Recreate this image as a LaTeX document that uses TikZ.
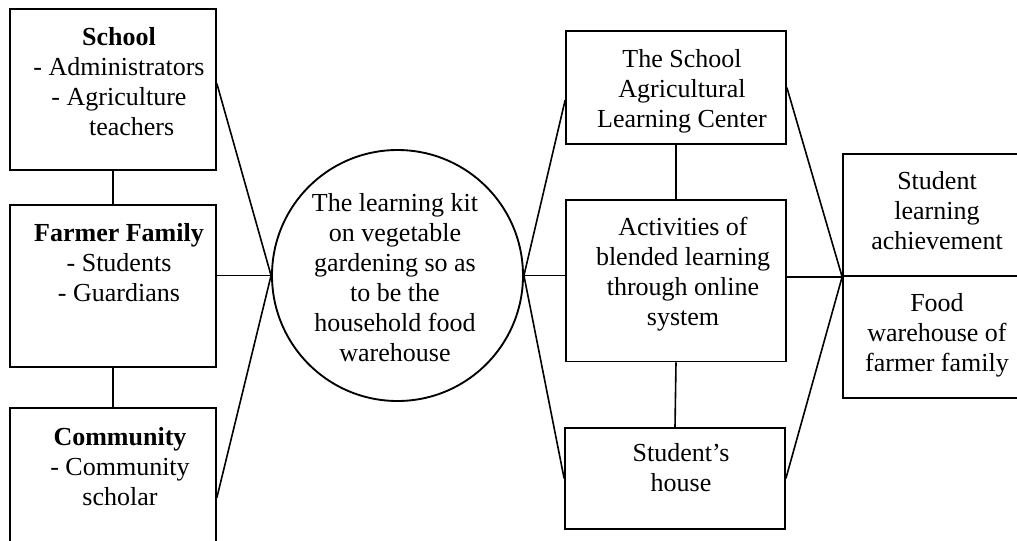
\documentclass[tikz,border=0pt]{standalone}
\usepackage{fontspec}
\setmainfont{Liberation Serif}
\usetikzlibrary{calc}
\tikzset{
  box/.style={draw, line width=1.3pt, rectangle, inner sep=0pt},
  ring/.style={draw, line width=1.4pt, circle, inner sep=0pt},
  txt/.style={align=center, anchor=base, inner sep=0pt, font=\fontsize{19.5pt}{22.5pt}\selectfont},
  link/.style={line width=1.2pt}
}
\begin{document}
\begin{tikzpicture}[x=0.75pt,y=-0.75pt]
\useasboundingbox (0,0) rectangle (1017,540);
\clip (0,0) rectangle (1017,540);
% left boxes
\node[box, minimum width=154.5pt, minimum height=121pt] (school) at (113,89.3) {};
\node[box, minimum width=154.5pt, minimum height=121.3pt] (farmer) at (113,285.9) {};
\node[box, minimum width=154.5pt, minimum height=106.5pt] (comm) at (113,479) {};
% circle
\node[ring, minimum size=188.25pt] (circ) at (397.5,275.5) {};
% middle boxes
\node[box, minimum width=165pt, minimum height=84.75pt] (top) at (676,87.5) {};
\node[box, minimum width=165pt, minimum height=121.1pt] (mid) at (676,280.75) {};
\node[box, minimum width=165pt, minimum height=75.75pt] (bot) at (675,478.5) {};
% right boxes
\node[box, minimum width=141pt, minimum height=91.5pt] (res1) at (937,215) {};
\node[box, minimum width=141pt, minimum height=91.5pt] (res2) at (937,337) {};
% texts (anchor = baseline of the last line)
\node[txt] (tschool) at (119,135) {\textbf{School}\\- Administrators\\- Agriculture\\\hspace*{19pt}teachers};
\node[txt] (tfarmer) at (119,301) {\textbf{Farmer Family}\\- Students\\- Guardians};
\node[txt] (tcomm) at (120,505) {\textbf{Community}\\- Community\\scholar};
\node[txt] (tcirc) at (395,361) {The learning kit\\on vegetable\\gardening so as\\to be the\\household food\\warehouse};
\node[txt] (ttop) at (682,127) {The School\\Agricultural\\Learning Center};
\node[txt] (tmid) at (683,325) {Activities of\\blended learning\\through online\\system};
\node[txt] (tbot) at (681,491) {Student’s\\house};
\node[txt] (tres1) at (937,249) {Student\\learning\\achievement};
\node[txt] (tres2) at (937,371) {Food\\warehouse of\\farmer family};
% connectors
\draw[link] (school.south) -- (farmer.north);
\draw[link] (farmer.south) -- (comm.north);
\draw[link] ($(school.north east)!0.465!(school.south east)$) -- (circ.west);
\draw[link] (farmer.east |- circ.west) -- (circ.west);
\draw[link] ($(comm.north east)!0.63!(comm.south east)$) -- (circ.west);
\draw[link] (circ.east) -- ($(top.north west)!0.61!(top.south west)$);
\draw[link] (circ.east) -- (circ.east -| mid.west);
\draw[link] (circ.east) -- (bot.west);
\draw[link] (top.south) -- (mid.north);
\draw[link] (mid.south) -- (bot.north);
\draw[link] (top.east) -- (res1.south west);
\draw[link] (mid.east |- res1.south west) -- (res1.south west);
\draw[link] (bot.east) -- (res1.south west);
\end{tikzpicture}
\end{document}
